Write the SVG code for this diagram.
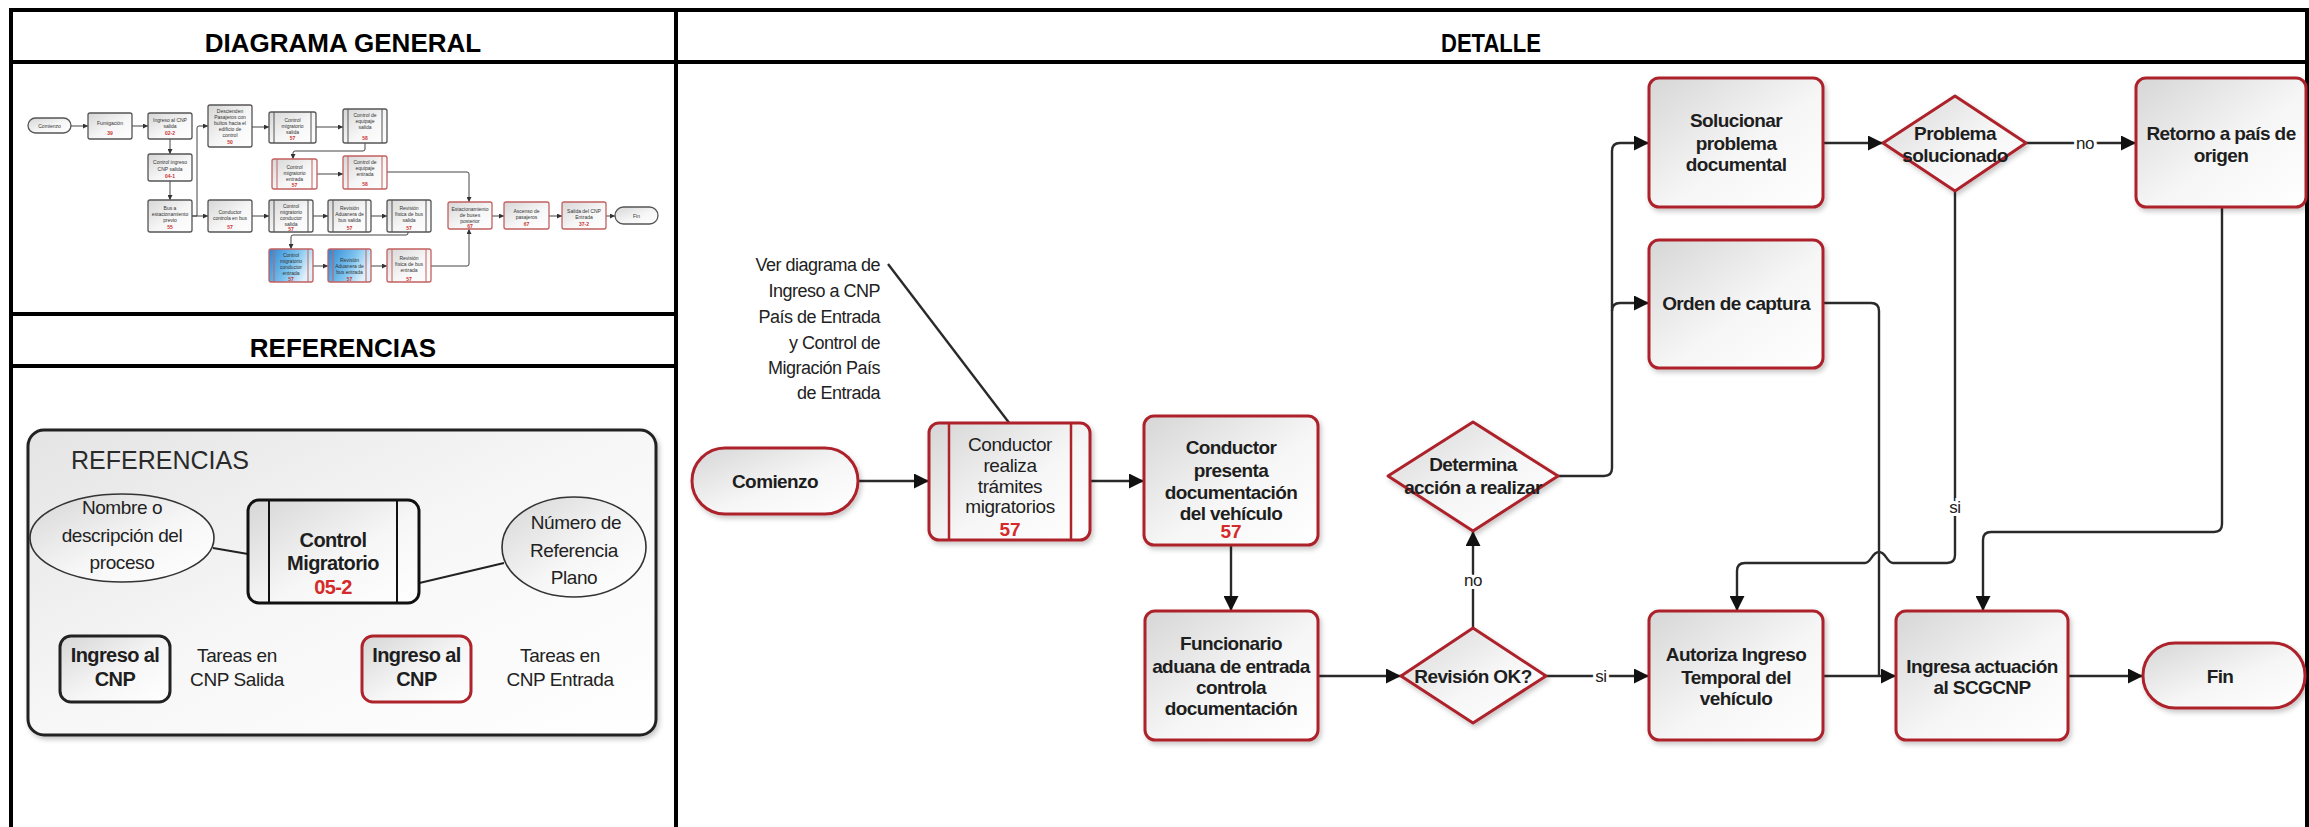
<svg xmlns="http://www.w3.org/2000/svg" width="2309" height="827" viewBox="0 0 2309 827">
  <defs>
    <linearGradient id="gFill" x1="0" y1="0" x2="1" y2="1">
      <stop offset="0" stop-color="#d6d6d6"/>
      <stop offset="0.55" stop-color="#f6f6f6"/>
      <stop offset="1" stop-color="#ffffff"/>
    </linearGradient>
    <linearGradient id="gBlue" x1="0" y1="0" x2="1" y2="0.4">
      <stop offset="0" stop-color="#2a86d4"/>
      <stop offset="0.6" stop-color="#7cc3ee"/>
      <stop offset="1" stop-color="#dff1fb"/>
    </linearGradient>
    <linearGradient id="gPanel" x1="0" y1="0" x2="1" y2="1">
      <stop offset="0" stop-color="#e4e4e4"/>
      <stop offset="0.5" stop-color="#f7f7f7"/>
      <stop offset="1" stop-color="#ffffff"/>
    </linearGradient>
    <filter id="sh" x="-10%" y="-10%" width="130%" height="130%">
      <feDropShadow dx="2" dy="3" stdDeviation="2.5" flood-color="#000" flood-opacity="0.22"/>
    </filter>
    <marker id="ah" viewBox="0 0 10 10" refX="10" refY="5" markerUnits="userSpaceOnUse" markerWidth="15" markerHeight="15" orient="auto">
      <path d="M0,0 L10,5 L0,10 Z" fill="#111"/>
    </marker>
    <marker id="ahs" viewBox="0 0 10 10" refX="10" refY="5" markerUnits="userSpaceOnUse" markerWidth="5" markerHeight="5" orient="auto">
      <path d="M0,0 L10,5 L0,10 Z" fill="#333"/>
    </marker>
    <style>
      .grid { stroke:#000; stroke-width:4; fill:none; }
      .hdr { font-family:"Liberation Sans", Arial, sans-serif; font-weight:bold; font-size:26px; text-anchor:middle; fill:#000; }
      .node { fill:url(#gFill); stroke:#ad242b; stroke-width:3; filter:url(#sh); }
      .t { font-family:"Liberation Sans", Arial, sans-serif; font-weight:bold; font-size:19px; text-anchor:middle; fill:#1e1e1e; letter-spacing:-0.6px; }
      .tn { font-family:"Liberation Sans", Arial, sans-serif; font-size:19px; text-anchor:middle; fill:#1e1e1e; letter-spacing:-0.4px; }
      .num { font-family:"Liberation Sans", Arial, sans-serif; font-weight:bold; font-size:19px; text-anchor:middle; fill:#d42a2a; }
      .note { font-family:"Liberation Sans", Arial, sans-serif; font-size:18px; text-anchor:end; fill:#222; letter-spacing:-0.5px; }
      .edge { fill:none; stroke:#2a2a2a; stroke-width:2.4; }
      .lbl { font-family:"Liberation Sans", Arial, sans-serif; font-size:17px; text-anchor:middle; fill:#222; stroke:#fff; stroke-width:6px; paint-order:stroke; letter-spacing:-0.5px; }
      .m { fill:url(#gFill); stroke:#555; stroke-width:1.3; }
      .mr { fill:url(#gFill); stroke:#c46060; stroke-width:1.3; }
      .mb { fill:url(#gBlue); stroke:#c46060; stroke-width:1.3; }
      .ml { stroke:#555; stroke-width:1; }
      .mrl { stroke:#c46060; stroke-width:1; }
      .mt { font-family:"Liberation Sans", Arial, sans-serif; font-size:5px; text-anchor:middle; fill:#333; }
      .mn { font-family:"Liberation Sans", Arial, sans-serif; font-size:5px; text-anchor:middle; fill:#c33; font-weight:bold; }
      .medge { fill:none; stroke:#444; stroke-width:1; }
      .rt { font-family:"Liberation Sans", Arial, sans-serif; font-size:19px; text-anchor:middle; fill:#222; letter-spacing:-0.4px; }
      .rb { font-family:"Liberation Sans", Arial, sans-serif; font-size:20px; font-weight:bold; text-anchor:middle; fill:#1e1e1e; letter-spacing:-0.6px; }
    </style>
  </defs>

  <rect x="0" y="0" width="2309" height="827" fill="#fff"/>

  <!-- table frame -->
  <g id="table">
    <line class="grid" x1="11" y1="10" x2="2309" y2="10"/>
    <line class="grid" x1="11" y1="62" x2="2309" y2="62"/>
    <line class="grid" x1="11" y1="314" x2="676" y2="314"/>
    <line class="grid" x1="11" y1="366" x2="676" y2="366"/>
    <line class="grid" x1="11" y1="8" x2="11" y2="827"/>
    <line class="grid" x1="676" y1="8" x2="676" y2="827"/>
    <line class="grid" x1="2307" y1="8" x2="2307" y2="827"/>
    <text class="hdr" x="343" y="52">DIAGRAMA GENERAL</text>
    <text class="hdr" x="1491" y="52" textLength="100" lengthAdjust="spacingAndGlyphs">DETALLE</text>
    <text class="hdr" x="343" y="357">REFERENCIAS</text>
  </g>

  <!-- overview flow (miniature) -->
  <g id="overview">
    <g id="ov-edges">
      <path class="medge" d="M71,126 L88,126" marker-end="url(#ahs)"/>
      <path class="medge" d="M132,126 L148,126" marker-end="url(#ahs)"/>
      <path class="medge" d="M170,139 L170,154" marker-end="url(#ahs)"/>
      <path class="medge" d="M170,181 L170,200" marker-end="url(#ahs)"/>
      <path class="medge" d="M192,216 L208,216" marker-end="url(#ahs)"/>
      <path class="medge" d="M192,216 L197,216 L197,128 Q197,126 199,126 L208,126" marker-end="url(#ahs)"/>
      <path class="medge" d="M252,127 L269,127" marker-end="url(#ahs)"/>
      <path class="medge" d="M316,127 L343,127" marker-end="url(#ahs)"/>
      <path class="medge" d="M365,143 L365,149 Q365,151 363,151 L295,151 Q293,151 293,153 L293,159" marker-end="url(#ahs)"/>
      <path class="medge" d="M317,174 L343,174" marker-end="url(#ahs)"/>
      <path class="medge" d="M387,172 L467,172 Q469,172 469,174 L469,202" marker-end="url(#ahs)"/>
      <path class="medge" d="M252,216 L269,216" marker-end="url(#ahs)"/>
      <path class="medge" d="M313,216 L328,216" marker-end="url(#ahs)"/>
      <path class="medge" d="M371,216 L387,216" marker-end="url(#ahs)"/>
      <path class="medge" d="M408,232 L408,233 Q408,235 406,235 L293,235 Q291,235 291,237 L291,249" marker-end="url(#ahs)"/>
      <path class="medge" d="M313,266 L328,266" marker-end="url(#ahs)"/>
      <path class="medge" d="M371,266 L387,266" marker-end="url(#ahs)"/>
      <path class="medge" d="M431,266 L467,266 Q469,266 469,264 L469,229" marker-end="url(#ahs)"/>
      <path class="medge" d="M492,216 L504,216" marker-end="url(#ahs)"/>
      <path class="medge" d="M549,216 L562,216" marker-end="url(#ahs)"/>
      <path class="medge" d="M606,216 L615,216" marker-end="url(#ahs)"/>
    </g>
    <g id="ov-comienzo"><rect class="m" x="28" y="118" width="43" height="15" rx="7.5"/><text class="mt" x="49.5" y="127.5">Comienzo</text></g>
    <g id="ov-fumigacion"><rect class="m" x="88" y="113" width="44" height="26" rx="2"/><text class="mt" x="110" y="125">Fumigación</text><text class="mn" x="110" y="135">39</text></g>
    <g id="ov-ingreso"><rect class="m" x="148" y="113" width="44" height="26" rx="2"/><text class="mt" x="170" y="122">Ingreso al CNP</text><text class="mt" x="170" y="128">salida</text><text class="mn" x="170" y="135">02-2</text></g>
    <g id="ov-descienden"><rect class="m" x="208" y="105" width="44" height="42" rx="2"/><text class="mt" x="230" y="113">Descienden</text><text class="mt" x="230" y="119">Pasajeros con</text><text class="mt" x="230" y="125">bultos hacia el</text><text class="mt" x="230" y="131">edificio de</text><text class="mt" x="230" y="137">control</text><text class="mn" x="230" y="144">50</text></g>
    <g id="ov-migr-salida"><rect class="m" x="269" y="112" width="47" height="31" rx="2"/><line class="ml" x1="274" y1="112" x2="274" y2="143"/><line class="ml" x1="311" y1="112" x2="311" y2="143"/><text class="mt" x="292.5" y="122">Control</text><text class="mt" x="292.5" y="128">migratorio</text><text class="mt" x="292.5" y="134">salida</text><text class="mn" x="292.5" y="140">57</text></g>
    <g id="ov-equip-salida"><rect class="m" x="343" y="109" width="44" height="34" rx="2"/><line class="ml" x1="348" y1="109" x2="348" y2="143"/><line class="ml" x1="382" y1="109" x2="382" y2="143"/><text class="mt" x="365" y="117">Control de</text><text class="mt" x="365" y="123">equipaje</text><text class="mt" x="365" y="129">salida</text><text class="mn" x="365" y="140">58</text></g>
    <g id="ov-ctrl-ingreso"><rect class="m" x="148" y="154" width="44" height="27" rx="2"/><text class="mt" x="170" y="164">Control ingreso</text><text class="mt" x="170" y="171">CNP salida</text><text class="mn" x="170" y="178">04-1</text></g>
    <g id="ov-migr-entrada"><rect class="mr" x="272" y="159" width="45" height="30" rx="2"/><line class="mrl" x1="277" y1="159" x2="277" y2="189"/><line class="mrl" x1="312" y1="159" x2="312" y2="189"/><text class="mt" x="294.5" y="169">Control</text><text class="mt" x="294.5" y="175">migratorio</text><text class="mt" x="294.5" y="181">entrada</text><text class="mn" x="294.5" y="187">57</text></g>
    <g id="ov-equip-entrada"><rect class="mr" x="343" y="156" width="44" height="33" rx="2"/><line class="mrl" x1="348" y1="156" x2="348" y2="189"/><line class="mrl" x1="382" y1="156" x2="382" y2="189"/><text class="mt" x="365" y="164">Control de</text><text class="mt" x="365" y="170">equipaje</text><text class="mt" x="365" y="176">entrada</text><text class="mn" x="365" y="186">58</text></g>
    <g id="ov-bus-previo"><rect class="m" x="148" y="200" width="44" height="32" rx="2"/><text class="mt" x="170" y="210">Bus a</text><text class="mt" x="170" y="216">estacionamiento</text><text class="mt" x="170" y="222">previo</text><text class="mn" x="170" y="229">55</text></g>
    <g id="ov-conductor"><rect class="m" x="208" y="200" width="44" height="32" rx="2"/><text class="mt" x="230" y="214">Conductor</text><text class="mt" x="230" y="220">controla en bus</text><text class="mn" x="230" y="229">57</text></g>
    <g id="ov-migr-cond-salida"><rect class="m" x="269" y="200" width="44" height="32" rx="2"/><line class="ml" x1="274" y1="200" x2="274" y2="232"/><line class="ml" x1="308" y1="200" x2="308" y2="232"/><text class="mt" x="291" y="208">Control</text><text class="mt" x="291" y="214">migratorio</text><text class="mt" x="291" y="220">conductor</text><text class="mt" x="291" y="226">salida</text><text class="mn" x="291" y="231">57</text></g>
    <g id="ov-aduana-salida"><rect class="m" x="328" y="200" width="43" height="32" rx="2"/><line class="ml" x1="333" y1="200" x2="333" y2="232"/><line class="ml" x1="366" y1="200" x2="366" y2="232"/><text class="mt" x="349.5" y="210">Revisión</text><text class="mt" x="349.5" y="216">Aduanera de</text><text class="mt" x="349.5" y="222">bus salida</text><text class="mn" x="349.5" y="230">57</text></g>
    <g id="ov-fisica-salida"><rect class="m" x="387" y="200" width="44" height="32" rx="2"/><line class="ml" x1="392" y1="200" x2="392" y2="232"/><line class="ml" x1="426" y1="200" x2="426" y2="232"/><text class="mt" x="409" y="210">Revisión</text><text class="mt" x="409" y="216">física de bus</text><text class="mt" x="409" y="222">salida</text><text class="mn" x="409" y="230">57</text></g>
    <g id="ov-estac-posterior"><rect class="mr" x="448" y="202" width="44" height="27" rx="2"/><text class="mt" x="470" y="211">Estacionamiento</text><text class="mt" x="470" y="217">de buses</text><text class="mt" x="470" y="223">posterior</text><text class="mn" x="470" y="228">67</text></g>
    <g id="ov-ascenso"><rect class="mr" x="504" y="202" width="45" height="27" rx="2"/><text class="mt" x="526.5" y="213">Ascenso de</text><text class="mt" x="526.5" y="219">pasajeros</text><text class="mn" x="526.5" y="226">67</text></g>
    <g id="ov-salida-cnp"><rect class="mr" x="562" y="202" width="44" height="27" rx="2"/><text class="mt" x="584" y="213">Salida del CNP</text><text class="mt" x="584" y="219">Entrada</text><text class="mn" x="584" y="226">37-2</text></g>
    <g id="ov-fin"><rect class="m" x="615" y="207" width="43" height="17" rx="8.5"/><text class="mt" x="636.5" y="217.5">Fin</text></g>
    <g id="ov-migr-cond-entrada"><rect class="mb" x="269" y="249" width="44" height="33" rx="2"/><line class="mrl" x1="274" y1="249" x2="274" y2="282"/><line class="mrl" x1="308" y1="249" x2="308" y2="282"/><text class="mt" x="291" y="257">Control</text><text class="mt" x="291" y="263">migratorio</text><text class="mt" x="291" y="269">conductor</text><text class="mt" x="291" y="275">entrada</text><text class="mn" x="291" y="281">57</text></g>
    <g id="ov-aduana-entrada"><rect class="mb" x="328" y="249" width="43" height="33" rx="2"/><line class="mrl" x1="333" y1="249" x2="333" y2="282"/><line class="mrl" x1="366" y1="249" x2="366" y2="282"/><text class="mt" x="349.5" y="262">Revisión</text><text class="mt" x="349.5" y="268">Aduanera de</text><text class="mt" x="349.5" y="274">bus entrada</text><text class="mn" x="349.5" y="281">57</text></g>
    <g id="ov-fisica-entrada"><rect class="mr" x="387" y="249" width="44" height="33" rx="2"/><line class="mrl" x1="392" y1="249" x2="392" y2="282"/><line class="mrl" x1="426" y1="249" x2="426" y2="282"/><text class="mt" x="409" y="260">Revisión</text><text class="mt" x="409" y="266">física de bus</text><text class="mt" x="409" y="272">entrada</text><text class="mn" x="409" y="281">57</text></g>
  </g>

  <!-- legend panel -->
  <g id="legend">
    <rect x="28" y="430" width="628" height="305" rx="16" fill="url(#gPanel)" stroke="#222" stroke-width="3" filter="url(#sh)"/>
    <text x="71" y="469" font-family="Liberation Sans, Arial, sans-serif" font-size="25" fill="#2a2a2a">REFERENCIAS</text>
    <line x1="213" y1="548" x2="248" y2="554" stroke="#222" stroke-width="1.8"/>
    <line x1="504" y1="563" x2="339" y2="602" stroke="#222" stroke-width="1.8"/>
    <g id="legend-nombre">
      <ellipse cx="122" cy="538" rx="92" ry="44" fill="url(#gFill)" stroke="#333" stroke-width="1.6"/>
      <text class="rt" x="122" y="514">Nombre o</text>
      <text class="rt" x="122" y="542">descripción del</text>
      <text class="rt" x="122" y="569">proceso</text>
    </g>
    <g id="legend-proceso">
      <rect x="248" y="500" width="171" height="103" rx="11" fill="url(#gFill)" stroke="#111" stroke-width="3"/>
      <line x1="269" y1="500" x2="269" y2="603" stroke="#111" stroke-width="2"/>
      <line x1="397" y1="500" x2="397" y2="603" stroke="#111" stroke-width="2"/>
      <text class="rb" x="333" y="547">Control</text>
      <text class="rb" x="333" y="570">Migratorio</text>
      <text class="rb" x="333" y="594" style="fill:#d42a2a">05-2</text>
    </g>
    <g id="legend-numero">
      <ellipse cx="574" cy="547" rx="72" ry="50" fill="url(#gFill)" stroke="#333" stroke-width="1.6"/>
      <text class="rt" x="576" y="529">Número de</text>
      <text class="rt" x="574" y="557">Referencia</text>
      <text class="rt" x="574" y="584">Plano</text>
    </g>
    <g id="legend-salida">
      <rect x="60" y="636" width="110" height="66" rx="11" fill="url(#gFill)" stroke="#222" stroke-width="3"/>
      <text class="rb" x="115" y="662">Ingreso al</text>
      <text class="rb" x="115" y="686">CNP</text>
      <text class="rt" x="237" y="662">Tareas en</text>
      <text class="rt" x="237" y="686">CNP Salida</text>
    </g>
    <g id="legend-entrada">
      <rect x="362" y="636" width="109" height="66" rx="11" fill="url(#gFill)" stroke="#ad242b" stroke-width="3"/>
      <text class="rb" x="416.5" y="662">Ingreso al</text>
      <text class="rb" x="416.5" y="686">CNP</text>
      <text class="rt" x="560" y="662">Tareas en</text>
      <text class="rt" x="560" y="686">CNP Entrada</text>
    </g>
  </g>

  <!-- detail flow: connectors -->
  <g id="connectors">
    <path class="edge" d="M888,264 L1010,424"/>
    <path class="edge" d="M858,481 L929,481" marker-end="url(#ah)"/>
    <path class="edge" d="M1090,481 L1144,481" marker-end="url(#ah)"/>
    <path class="edge" d="M1231,545 L1231,611" marker-end="url(#ah)"/>
    <path class="edge" d="M1318,676 L1401,676" marker-end="url(#ah)"/>
    <path class="edge" d="M1473,628 L1473,531" marker-end="url(#ah)"/>
    <path class="edge" d="M1546,676 L1649,676" marker-end="url(#ah)"/>
    <path class="edge" d="M1823,676 L1896,676" marker-end="url(#ah)"/>
    <path class="edge" d="M2068,676 L2143,676" marker-end="url(#ah)"/>
    <path class="edge" d="M1558,476 L1604,476 Q1612,476 1612,468 L1612,151 Q1612,143 1620,143 L1649,143" marker-end="url(#ah)"/>
    <path class="edge" d="M1612,311 Q1612,303 1620,303 L1649,303" marker-end="url(#ah)"/>
    <path class="edge" d="M1823,143 L1883,143" marker-end="url(#ah)"/>
    <path class="edge" d="M2026,143 L2136,143" marker-end="url(#ah)"/>
    <path class="edge" d="M1823,303 L1871,303 Q1879,303 1879,311 L1879,676"/>
    <path class="edge" d="M1955,191 L1955,555 Q1955,563 1947,563 L1893,563 C1887,563 1886,552 1879,552 C1872,552 1871,563 1865,563 L1745,563 Q1737,563 1737,571 L1737,611" marker-end="url(#ah)"/>
    <path class="edge" d="M2222,207 L2222,524 Q2222,532 2214,532 L1991,532 Q1983,532 1983,540 L1983,611" marker-end="url(#ah)"/>
    <text class="lbl" x="1473" y="586">no</text>
    <text class="lbl" x="1601" y="682">si</text>
    <text class="lbl" x="2085" y="149">no</text>
    <text class="lbl" x="1955" y="513">si</text>
  </g>

  <g id="note">
    <text class="note" x="880" y="271">Ver diagrama de</text>
    <text class="note" x="880" y="297">Ingreso a CNP</text>
    <text class="note" x="880" y="323">País de Entrada</text>
    <text class="note" x="880" y="349">y Control de</text>
    <text class="note" x="880" y="374">Migración País</text>
    <text class="note" x="880" y="399">de Entrada</text>
  </g>

  <!-- detail flow: nodes -->
  <g id="n-comienzo">
    <rect class="node" x="692" y="448" width="166" height="66" rx="33"/>
    <text class="t" x="775" y="488">Comienzo</text>
  </g>
  <g id="n-tramites">
    <rect class="node" x="929" y="423" width="161" height="117" rx="10"/>
    <line x1="949" y1="423" x2="949" y2="540" stroke="#ad242b" stroke-width="2.5"/>
    <line x1="1071" y1="423" x2="1071" y2="540" stroke="#ad242b" stroke-width="2.5"/>
    <text class="tn" x="1010" y="451">Conductor</text>
    <text class="tn" x="1010" y="472">realiza</text>
    <text class="tn" x="1010" y="493">trámites</text>
    <text class="tn" x="1010" y="513">migratorios</text>
    <text class="num" x="1010" y="536">57</text>
  </g>
  <g id="n-presenta">
    <rect class="node" x="1144" y="416" width="174" height="129" rx="10"/>
    <text class="t" x="1231" y="454">Conductor</text>
    <text class="t" x="1231" y="477">presenta</text>
    <text class="t" x="1231" y="499">documentación</text>
    <text class="t" x="1231" y="520">del vehículo</text>
    <text class="num" x="1231" y="538">57</text>
  </g>
  <g id="n-funcionario">
    <rect class="node" x="1145" y="611" width="173" height="129" rx="10"/>
    <text class="t" x="1231" y="650">Funcionario</text>
    <text class="t" x="1231" y="673">aduana de entrada</text>
    <text class="t" x="1231" y="694">controla</text>
    <text class="t" x="1231" y="715">documentación</text>
  </g>
  <g id="n-revision">
    <polygon class="node" points="1473,628 1546,676 1473,723 1401,676" stroke-linejoin="round"/>
    <text class="t" x="1473" y="683">Revisión OK?</text>
  </g>
  <g id="n-determina">
    <polygon class="node" points="1473,422 1558,476 1473,531 1388,476" stroke-linejoin="round"/>
    <text class="t" x="1473" y="471">Determina</text>
    <text class="t" x="1473" y="494">acción a realizar</text>
  </g>
  <g id="n-solucionar">
    <rect class="node" x="1649" y="78" width="174" height="129" rx="10"/>
    <text class="t" x="1736" y="127">Solucionar</text>
    <text class="t" x="1736" y="150">problema</text>
    <text class="t" x="1736" y="171">documental</text>
  </g>
  <g id="n-orden">
    <rect class="node" x="1649" y="240" width="174" height="128" rx="10"/>
    <text class="t" x="1736" y="310">Orden de captura</text>
  </g>
  <g id="n-problema">
    <polygon class="node" points="1955,96 2026,143 1955,191 1883,143" stroke-linejoin="round"/>
    <text class="t" x="1955" y="140">Problema</text>
    <text class="t" x="1955" y="162">solucionado</text>
  </g>
  <g id="n-retorno">
    <rect class="node" x="2136" y="78" width="170" height="129" rx="10"/>
    <text class="t" x="2221" y="140">Retorno a país de</text>
    <text class="t" x="2221" y="162">origen</text>
  </g>
  <g id="n-autoriza">
    <rect class="node" x="1649" y="611" width="174" height="129" rx="10"/>
    <text class="t" x="1736" y="661">Autoriza Ingreso</text>
    <text class="t" x="1736" y="684">Temporal del</text>
    <text class="t" x="1736" y="705">vehículo</text>
  </g>
  <g id="n-ingresa">
    <rect class="node" x="1896" y="611" width="172" height="129" rx="10"/>
    <text class="t" x="1982" y="673">Ingresa actuación</text>
    <text class="t" x="1982" y="694">al SCGCNP</text>
  </g>
  <g id="n-fin">
    <rect class="node" x="2143" y="643" width="162" height="65" rx="32"/>
    <text class="t" x="2220" y="683">Fin</text>
  </g>
</svg>
